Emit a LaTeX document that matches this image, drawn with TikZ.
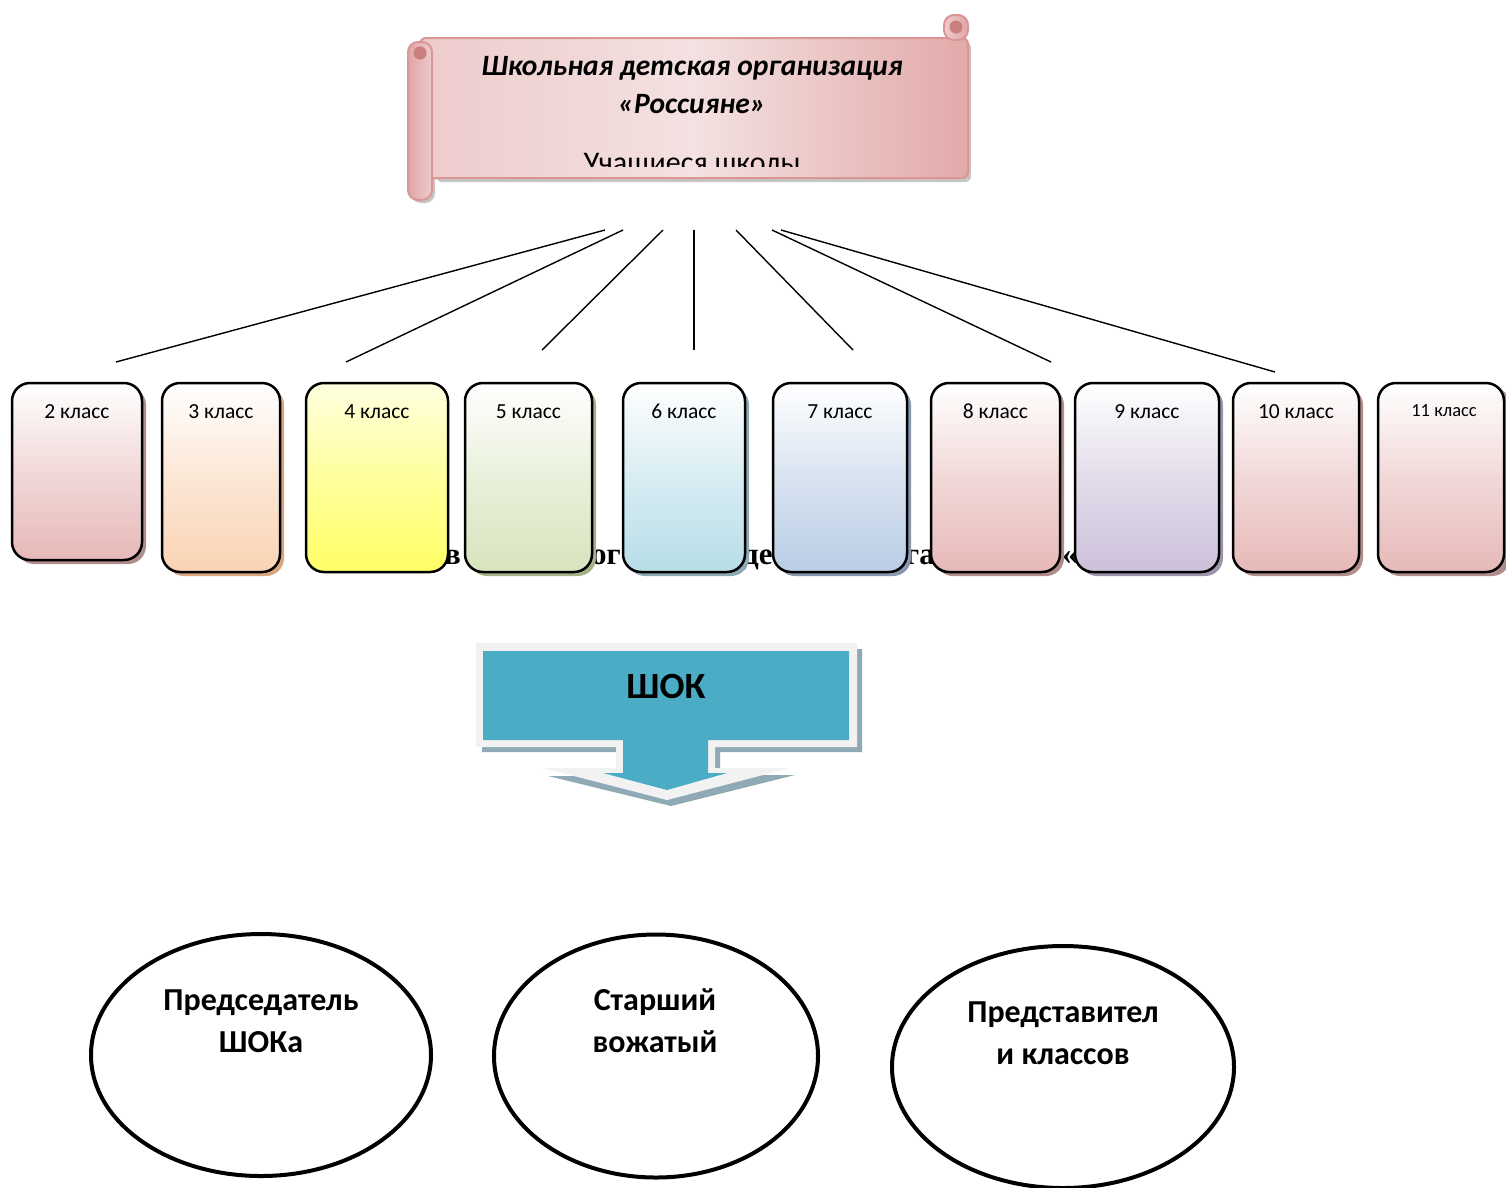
\documentclass[tikz,border=0pt]{standalone}
\usepackage{fontspec}
\setmainfont{Carlito}
\newfontfamily\serifbold{Liberation Serif}
\usetikzlibrary{calc,shapes.geometric}
\definecolor{scrollborder}{HTML}{D99694}
\definecolor{scrolldark}{HTML}{E2AAA9}
\definecolor{scrolllight}{HTML}{F4E1E1}
\definecolor{scrollmid}{HTML}{EDCBCB}
\definecolor{curl}{HTML}{C97F7E}
\definecolor{pinkc}{HTML}{E6B9B8}
\definecolor{pinks}{HTML}{B08C8B}
\definecolor{peachc}{HTML}{FAD3B4}
\definecolor{peachs}{HTML}{D9A67F}
\definecolor{yellc}{HTML}{FFFF66}
\definecolor{yelltop}{HTML}{FFFFE0}
\definecolor{greenc}{HTML}{D7E4BD}
\definecolor{greens}{HTML}{A3B387}
\definecolor{bluec}{HTML}{B7DDE8}
\definecolor{blues}{HTML}{8DA9B3}
\definecolor{steelc}{HTML}{B9CDE5}
\definecolor{steels}{HTML}{8797AE}
\definecolor{lilacc}{HTML}{CCC0DA}
\definecolor{lilacs}{HTML}{9D93AD}
\definecolor{shokblue}{HTML}{4BACC6}
\definecolor{shokrim}{HTML}{F2F2F2}
\definecolor{shokshadow}{HTML}{8FAAB5}
\newcommand\klassbox[8]{%
  \path[fill=#6, rounded corners=18pt] ({#2+4},387) rectangle ({#3+4},{#4+4});
  \node[classbox, minimum width={#3-#2}, minimum height={#4-383},
        top color=#7, bottom color=#5, middle color=#5!55!#7] (#1) at ({(#2+#3)/2},{(383+#4)/2}) {};
  \node[klabel] (#1t) at ({(#2+#3)/2},418) {#8};
}
\begin{document}
\begin{tikzpicture}[x=1pt,y=-1pt,
  classbox/.style={draw=black, line width=2.5pt, rounded corners=18pt, inner sep=0pt},
  klabel/.style={font=\fontsize{21.5}{24}\selectfont, inner sep=0pt, anchor=base},
  spoke/.style={draw=black, line width=1.4pt},
  ell/.style={draw=black, line width=4pt, ellipse, inner sep=0pt},
  etext/.style={font=\bfseries\fontsize{32}{36}\selectfont, anchor=base, inner sep=0pt},
  frag/.style={font=\serifbold\bfseries\fontsize{31}{34}\selectfont, anchor=base west, inner sep=0pt},
  scrolltext/.style={font=\bfseries\itshape\fontsize{29.5}{34}\selectfont, anchor=base, inner sep=0pt}]
\useasboundingbox[fill=white] (0,0) rectangle (1506,1187);

% ---------- scroll ----------
\fill[gray!45, rounded corners=6pt] (436,42) rectangle (971,182);
\fill[gray!45, rounded corners=10pt] (411,46) rectangle (435,203);
\draw[scrollborder, line width=2pt, rounded corners=6pt, shading=axis, shading angle=-60,
      left color=scrollmid, right color=scrolldark, middle color=scrolllight]
  (420,38) rectangle (968,178);
\draw[scrollborder, line width=2pt, rounded corners=10pt, left color=scrolldark!90!curl, right color=scrollmid]
  (408,42) rectangle (432,200);
\fill[curl] (420,53) circle (6.5);
\draw[scrollborder, line width=2pt, rounded corners=10pt, left color=scrollmid, right color=scrolldark!90!curl]
  (944,15) rectangle (968,40);
\fill[curl] (956,27) circle (6.5);
\node[scrolltext] (title1) at (692,75) {Школьная детская организация};
\node[scrolltext] (title2) at (692,113) {«Россияне»};
\begin{scope}
  \clip (440,140) rectangle (960,166);
  \node[font=\fontsize{30}{34}\selectfont, anchor=base, inner sep=0pt] (title3) at (692,172) {Учащиеся школы};
\end{scope}

% ---------- spokes ----------
\coordinate (s1a) at (605,230); \coordinate (s1b) at (116,362);
\coordinate (s2a) at (623,230); \coordinate (s2b) at (346,362);
\coordinate (s3a) at (663,230); \coordinate (s3b) at (542,350);
\coordinate (s4a) at (694,230); \coordinate (s4b) at (694,350);
\coordinate (s5a) at (736,230); \coordinate (s5b) at (853,350);
\coordinate (s6a) at (772,230); \coordinate (s6b) at (1051,362);
\coordinate (s7a) at (781,230); \coordinate (s7b) at (1275,372);
\foreach \i in {1,...,7} \draw[spoke] (s\i a) -- (s\i b);

% ---------- hidden title fragments ----------
\node[frag] (f1) at (444,564) {в};
\node[frag] (f2) at (591,564) {ог};
\node[frag] (f3) at (743,564) {де};
\node[frag] (f4) at (905,564) {га};
\node[frag] (f5) at (1062,564) {«};

% ---------- class boxes ----------
\klassbox{k2}{12}{142}{560}{pinkc}{pinks}{white}{2 класс}
\klassbox{k3}{162}{280}{572}{peachc}{peachs}{white}{3 класс}
\klassbox{k4}{306}{448}{572}{yellc}{none}{yelltop}{4 класс}
\klassbox{k5}{465}{592}{572}{greenc}{greens}{white}{5 класс}
\klassbox{k6}{623}{745}{572}{bluec}{blues}{white}{6 класс}
\klassbox{k7}{773}{907}{572}{steelc}{steels}{white}{7 класс}
\klassbox{k8}{931}{1060}{572}{pinkc}{pinks}{white}{8 класс}
\klassbox{k9}{1075}{1219}{572}{lilacc}{lilacs}{white}{9 класс}
\klassbox{k10}{1233}{1359}{572}{pinkc}{pinks}{white}{10 класс}
\path[fill=pinks, rounded corners=18pt] (1382,387) rectangle (1510,576);
\node[classbox, minimum width=126, minimum height=189, top color=white, bottom color=pinkc, middle color=pinkc!55!white] (k11) at (1441,477.5) {};
\node[font=\fontsize{18.5}{22}\selectfont, inner sep=0pt, anchor=base] (k11t) at (1444,416) {11 класс};

% ---------- SHOK arrow ----------
\fill[shokshadow] (482,649) -- (862,649) -- (862,752) -- (720,752) -- (720,775) -- (795,775)
  -- (671,806) -- (548,776) -- (621,776) -- (621,752) -- (482,752) -- cycle;
\fill[shokrim] (476,643) -- (857,643) -- (857,747) -- (715,747) -- (715,768) -- (790,768)
  -- (667,800) -- (543,768) -- (616,768) -- (616,747) -- (476,747) -- cycle;
\fill[shokblue] (483,651) -- (849,651) -- (849,740) -- (708,740) -- (708,773) -- (727,773)
  -- (667,790) -- (603,773) -- (623,773) -- (623,740) -- (483,740) -- cycle;
\node[font=\bfseries\fontsize{37}{40}\selectfont, inner sep=0pt] (shok) at (666,686) {ШОК};

% ---------- ellipses ----------
\node[ell, minimum width=340, minimum height=242] (e1) at (261,1055) {};
\node[etext] (e1a) at (261,1010) {Председатель};
\node[etext] (e1b) at (261,1052) {ШОКа};
\node[ell, minimum width=324, minimum height=243] (e2) at (656,1056) {};
\node[etext] (e2a) at (655,1010) {Старший};
\node[etext] (e2b) at (655,1052) {вожатый};
\node[ell, minimum width=342, minimum height=242] (e3) at (1063,1067) {};
\node[etext] (e3a) at (1063,1022) {Представител};
\node[etext] (e3b) at (1063,1064) {и классов};
\end{tikzpicture}
\end{document}
